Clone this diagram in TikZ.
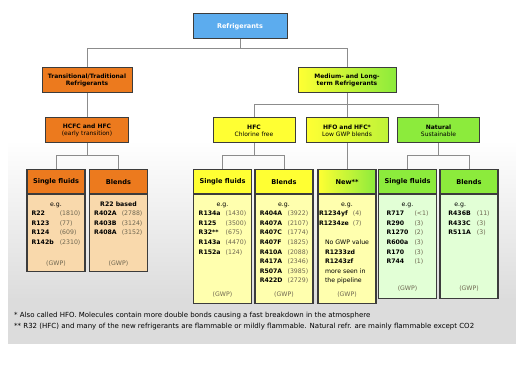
\documentclass[tikz,border=0pt]{standalone}
\usepackage{fontspec}
\setmainfont{DejaVu Sans}
\usepackage{array}
\usetikzlibrary{positioning}

\definecolor{edgegray}{HTML}{3C3C3C}
\definecolor{conngray}{HTML}{8C8C8C}
\definecolor{refblue}{HTML}{5CACEE}
\definecolor{reforange}{HTML}{EC7A1E}
\definecolor{refpeach}{HTML}{F9D9AC}
\definecolor{refyellow}{HTML}{FFFF33}
\definecolor{paleyellow}{HTML}{FFFFAE}
\definecolor{refgreen}{HTML}{8CEB3C}
\definecolor{palegreen}{HTML}{E2FFD6}
\definecolor{valgray}{HTML}{6E6650}
\definecolor{notegray}{HTML}{DCDCDC}

\newcolumntype{N}{>{\bfseries}l}
\newcolumntype{V}{>{\color{valgray}}l}

\begin{document}
\begin{tikzpicture}[x=1pt,y=-1pt,
  box/.style={draw=edgegray, line width=1pt, minimum height=25, align=center,
    inner sep=1pt, font=\fontsize{6}{7}\selectfont},
  hdr/.style={draw=edgegray, line width=1.2pt, minimum width=58, minimum height=24,
    font=\fontsize{6.6}{7}\selectfont\bfseries},
  body/.style={draw=edgegray, line width=1.2pt, minimum width=58},
  rows/.style={inner sep=0pt, font=\fontsize{6.2}{9.6}\selectfont},
  conn/.style={draw=conngray, line width=0.8pt}]

\fill[white] (0,0) rectangle (516,374);
\useasboundingbox (0,0) rectangle (516,374);
\shade[top color=white, bottom color=notegray] (8,140) rectangle (516,300);
\fill[notegray] (8,299.5) rectangle (516,344);

% tree of groups
\node[box, fill=refblue, minimum width=94, text=white,
  font=\fontsize{6.5}{7}\selectfont\bfseries] (ref) at (240,26.5) {Refrigerants};
\node[box, fill=reforange, minimum width=90] (trad) at (87,80.5)
  {\textbf{Transitional/Traditional}\\\textbf{Refrigerants}};
\node[box, fill=reforange, minimum width=83] (hcfc) at (87,130)
  {\textbf{HCFC and HFC}\\(early transition)};
\node[box, left color=refyellow, right color=refgreen, minimum width=98] (long) at (347,80.5)
  {\textbf{Medium- and Long-}\\\textbf{term Refrigerants}};
\node[box, fill=refyellow, minimum width=82] (hfc) at (254,130.5)
  {\textbf{HFC}\\Chlorine free};
\node[box, left color=refyellow, right color=refgreen!55!refyellow, minimum width=82] (hfo) at (347,130.5)
  {\textbf{HFO and HFC*}\\Low GWP blends};
\node[box, fill=refgreen, minimum width=82] (nat) at (438.5,130.5)
  {\textbf{Natural}\\Sustainable};

% HCFC columns
\node[hdr, fill=reforange, anchor=north] (hcfcS) at (56,169) {Single fluids};
\node[body, fill=refpeach, minimum height=77, below=0pt of hcfcS] (hcfcSb) {};
\node[rows, below=5pt of hcfcSb.north] (hcfcSl) {\begin{tabular}{@{}N@{\hspace{6pt}}V@{}}
  \multicolumn{2}{c}{e.g.}\\ R22&(1810)\\ R123&(77)\\ R124&(609)\\ R142b&(2310)\end{tabular}};
\node[rows, text=valgray, above=6pt of hcfcSb.south] (hcfcSg) {(GWP)};

\node[hdr, fill=reforange, anchor=north] (hcfcB) at (118.5,169) {Blends};
\node[body, fill=refpeach, minimum height=77, below=0pt of hcfcB] (hcfcBb) {};
\node[rows, below=5pt of hcfcBb.north] (hcfcBl) {\begin{tabular}{@{}N@{\hspace{5pt}}V@{}}
  \multicolumn{2}{l}{\bfseries R22 based}\\ R402A&(2788)\\ R403B&(3124)\\ R408A&(3152)\end{tabular}};
\node[rows, text=valgray, above=6pt of hcfcBb.south] (hcfcBg) {(GWP)};

% HFC columns
\node[hdr, fill=refyellow, anchor=north] (hfcS) at (222.5,169) {Single fluids};
\node[body, fill=paleyellow, minimum height=109, below=0pt of hfcS] (hfcSb) {};
\node[rows, below=5pt of hfcSb.north] (hfcSl) {\begin{tabular}{@{}N@{\hspace{5pt}}V@{}}
  \multicolumn{2}{c}{e.g.}\\ R134a&(1430)\\ R125&(3500)\\ R32**&(675)\\ R143a&(4470)\\ R152a&(124)\end{tabular}};
\node[rows, text=valgray, above=7pt of hfcSb.south] (hfcSg) {(GWP)};

\node[hdr, fill=refyellow, anchor=north] (hfcB) at (284,169) {Blends};
\node[body, fill=paleyellow, minimum height=109, below=0pt of hfcB] (hfcBb) {};
\node[rows, below=5pt of hfcBb.north] (hfcBl) {\begin{tabular}{@{}N@{\hspace{5pt}}V@{}}
  \multicolumn{2}{c}{e.g.}\\ R404A&(3922)\\ R407A&(2107)\\ R407C&(1774)\\ R407F&(1825)\\
  R410A&(2088)\\ R417A&(2346)\\ R507A&(3985)\\ R422D&(2729)\end{tabular}};
\node[rows, text=valgray, above=7pt of hfcBb.south] (hfcBg) {(GWP)};

% HFO column
\node[hdr, left color=refyellow, right color=refgreen, anchor=north] (hfoN) at (347,169) {New**};
\node[body, fill=paleyellow, minimum height=109, below=0pt of hfoN] (hfoNb) {};
\node[rows, below=5pt of hfoNb.north] (hfoNl) {\begin{tabular}{@{}N@{\hspace{4pt}}V@{}}
  \multicolumn{2}{c}{e.g.}\\ R1234yf&(4)\\ R1234ze&(7)\\ \multicolumn{2}{l}{}\\
  \multicolumn{2}{l}{No GWP value}\\ \multicolumn{2}{l}{\bfseries R1233zd}\\
  \multicolumn{2}{l}{\bfseries R1243zf}\\ \multicolumn{2}{l}{more seen in}\\
  \multicolumn{2}{l}{the pipeline}\end{tabular}};
\node[rows, text=valgray, above=7pt of hfoNb.south] (hfoNg) {(GWP)};

% natural columns
\node[hdr, fill=refgreen, anchor=north] (natS) at (407.5,169) {Single fluids};
\node[body, fill=palegreen, minimum height=104, below=0pt of natS] (natSb) {};
\node[rows, below=5pt of natSb.north] (natSl) {\begin{tabular}{@{}N@{\hspace{6pt}}V@{}}
  \multicolumn{2}{c}{e.g.}\\ R717&(<1)\\ R290&(3)\\ R1270&(2)\\ R600a&(3)\\ R170&(3)\\ R744&(1)\end{tabular}};
\node[rows, text=valgray, above=8pt of natSb.south] (natSg) {(GWP)};

\node[hdr, fill=refgreen, anchor=north] (natB) at (469,169) {Blends};
\node[body, fill=palegreen, minimum height=104, below=0pt of natB] (natBb) {};
\node[rows, below=5pt of natBb.north] (natBl) {\begin{tabular}{@{}N@{\hspace{6pt}}V@{}}
  \multicolumn{2}{l}{e.g.}\\ R436B&(11)\\ R433C&(3)\\ R511A&(3)\end{tabular}};
\node[rows, text=valgray, above=8pt of natBb.south] (natBg) {(GWP)};

% connectors
\draw[conn] (ref.south) -- ++(0,9) coordinate (j0) -| (trad.north);
\draw[conn] (j0) -| (long.north);
\draw[conn] (trad) -- (hcfc);
\draw[conn] (hcfc.south) -- ++(0,12) coordinate (j1) -| (hcfcS.north);
\draw[conn] (j1) -| (hcfcB.north);
\draw[conn] (long.south) -- ++(0,11) coordinate (j2) -| (hfc.north);
\draw[conn] (j2) -- (hfo.north);
\draw[conn] (j2) -| (nat.north);
\draw[conn] (hfc.south) -- ++(0,12) coordinate (j3) -| (hfcS.north);
\draw[conn] (j3) -| (hfcB.north);
\draw[conn] (hfo) -- (hfoN);
\draw[conn] (nat.south) -- ++(0,12) coordinate (j4) -| (natS.north);
\draw[conn] (j4) -| (natB.north);

% footnotes
\node[anchor=west, inner sep=0pt, font=\fontsize{7}{8}\selectfont] (note1) at (14,316)
  {* Also called HFO. Molecules contain more double bonds causing a fast breakdown in the atmosphere};
\node[anchor=west, inner sep=0pt, font=\fontsize{7}{8}\selectfont] (note2) at (14,326.5)
  {** R32 (HFC) and many of the new refrigerants are flammable or mildly flammable. Natural refr. are mainly flammable except CO2};
\end{tikzpicture}
\end{document}
